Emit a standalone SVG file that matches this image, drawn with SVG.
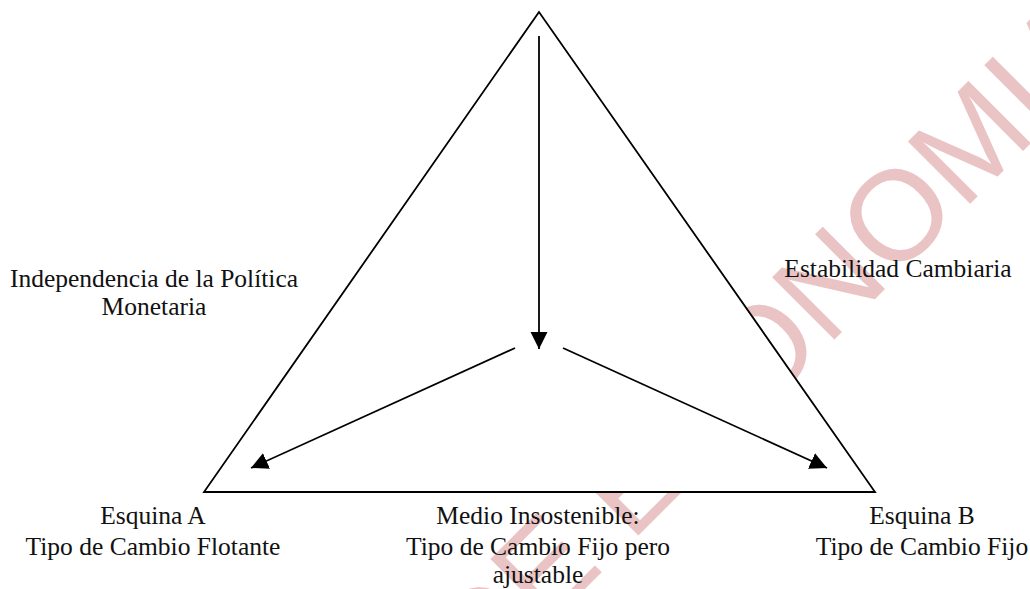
<svg xmlns="http://www.w3.org/2000/svg" width="1030" height="589" viewBox="0 0 1030 589">
<style>
.lbl{font-family:"Liberation Serif","Times New Roman",serif;font-size:25.5px;fill:#111;text-anchor:middle}
.wm{font-family:"Liberation Sans",Arial,sans-serif;font-size:128px;fill:#eac4c4}
.edge{stroke:#000;stroke-width:1.8;fill:none}
</style>
<defs>
<marker id="ah2" viewBox="0 0 18 18" refX="17" refY="9" markerWidth="18" markerHeight="18" markerUnits="userSpaceOnUse" orient="auto">
<path d="M0,0.5 L17,9 L0,17.5 Z" fill="#000"/>
</marker>
</defs>
<rect width="1030" height="589" fill="#fff"/>
<g id="watermark">
<text class="wm" transform="translate(480,694) rotate(-45)">DE ECONOMIA</text>
</g>
<g id="triangle">
<polygon points="539,12 204,492 875,492" fill="#fff" stroke="#000" stroke-width="1.8" stroke-linejoin="miter"/>
</g>
<g id="connectors">
<line class="edge" x1="539" y1="36" x2="539" y2="349" marker-end="url(#ah2)"/>
<line class="edge" x1="515" y1="348" x2="251" y2="468" marker-end="url(#ah2)"/>
<line class="edge" x1="563" y1="348" x2="827" y2="468" marker-end="url(#ah2)"/>
</g>
<g id="node-independencia">
<text class="lbl" x="154" y="287">Independencia de la Política</text>
<text class="lbl" x="154" y="315">Monetaria</text>
</g>
<g id="node-estabilidad">
<text class="lbl" x="898" y="277">Estabilidad Cambiaria</text>
</g>
<g id="node-esquina-a">
<text class="lbl" x="153" y="524">Esquina A</text>
<text class="lbl" x="153" y="555">Tipo de Cambio Flotante</text>
</g>
<g id="node-medio">
<text class="lbl" x="538" y="524">Medio Insostenible:</text>
<text class="lbl" x="538" y="555">Tipo de Cambio Fijo pero</text>
<text class="lbl" x="538" y="583">ajustable</text>
</g>
<g id="node-esquina-b">
<text class="lbl" x="922" y="524">Esquina B</text>
<text class="lbl" x="922" y="555">Tipo de Cambio Fijo</text>
</g>
</svg>
